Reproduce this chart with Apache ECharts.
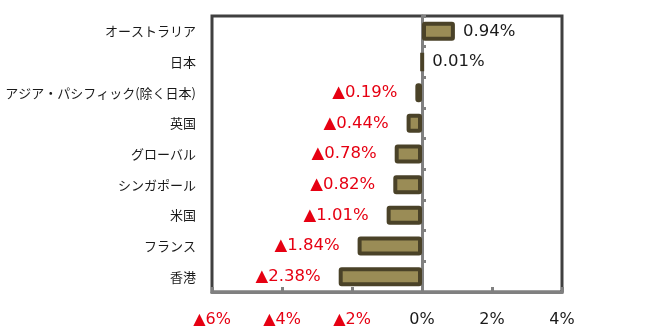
<!DOCTYPE html>
<html>
<head>
<meta charset="utf-8">
<script src="https://cdn.jsdelivr.net/npm/echarts@6/dist/echarts.min.js"></script>
<style>
html, body { margin: 0; padding: 0; background: #fff; }
#chart { width: 665px; height: 332px; }
</style>
</head>
<body>
<div id="chart"></div>
<script>
// Regions, top to bottom
const categories = ['オーストラリア', '日本', 'アジア・パシフィック(除く日本)', '英国', 'グローバル', 'シンガポール', '米国', 'フランス', '香港'];
// Return, percent
const values = [0.94, 0.01, -0.19, -0.44, -0.78, -0.82, -1.01, -1.84, -2.38];
// Value axis ticks, percent
const xTicks = [-6, -4, -2, 0, 2, 4];

const RED = '#e60012';
const TXT = '#1a1a1a';
const FONT = 'DejaVu Sans';
const JP = '"Noto Sans CJK JP"';

function fmtPct(v, digits) {
  const s = Math.abs(v).toFixed(digits) + '%';
  return v < 0 ? '{neg|▲' + s + '}' : '{pos|' + s + '}';
}

const richTick = {
  neg: { color: RED, fontFamily: FONT, fontSize: 16 },
  pos: { color: TXT, fontFamily: FONT, fontSize: 16 }
};
const richValue = {
  neg: { color: RED, fontFamily: FONT, fontSize: 16.5 },
  pos: { color: TXT, fontFamily: FONT, fontSize: 16.5 }
};

const chart = echarts.init(document.getElementById('chart'), null, { renderer: 'canvas' });

chart.setOption({
  animation: false,
  backgroundColor: '#fff',
  grid: {
    left: 212, right: 103, top: 16, bottom: 40,
    show: true, borderColor: '#404040', borderWidth: 3, backgroundColor: 'transparent'
  },
  xAxis: {
    type: 'value',
    min: xTicks[0], max: xTicks[xTicks.length - 1], interval: 2,
    splitLine: { show: false },
    axisLine: { show: true, lineStyle: { color: '#808080', width: 3 } },
    axisTick: { show: true, inside: true, length: 5, lineStyle: { color: '#808080', width: 3 } },
    axisLabel: {
      margin: 20,
      formatter: v => fmtPct(v, 0),
      rich: richTick
    }
  },
  yAxis: [
    {
      type: 'category',
      data: categories,
      inverse: true,
      axisLine: { show: true, onZero: true, lineStyle: { color: '#808080', width: 3 } },
      axisTick: { show: true, inside: true, length: 4, lineStyle: { color: '#808080', width: 3 } },
      axisLabel: { show: false },
      splitLine: { show: false }
    },
    {
      type: 'category',
      data: categories,
      inverse: true,
      position: 'left',
      axisLine: { show: false, onZero: false },
      axisTick: { show: false },
      axisLabel: { margin: 16, color: TXT, fontFamily: JP, fontSize: 13 },
      splitLine: { show: false }
    }
  ],
  series: [{
    type: 'bar',
    yAxisIndex: 0,
    barWidth: 19,
    itemStyle: { color: '#9a8c56', borderColor: '#4a4228', borderWidth: 4, borderRadius: 1 },
    data: values.map(v => ({
      value: v,
      label: {
        show: true,
        position: v < 0 ? 'left' : 'right',
        distance: v < 0 ? 18 : 8,
        formatter: p => fmtPct(p.value, 2),
        rich: richValue
      }
    }))
  }]
});
</script>
</body>
</html>
